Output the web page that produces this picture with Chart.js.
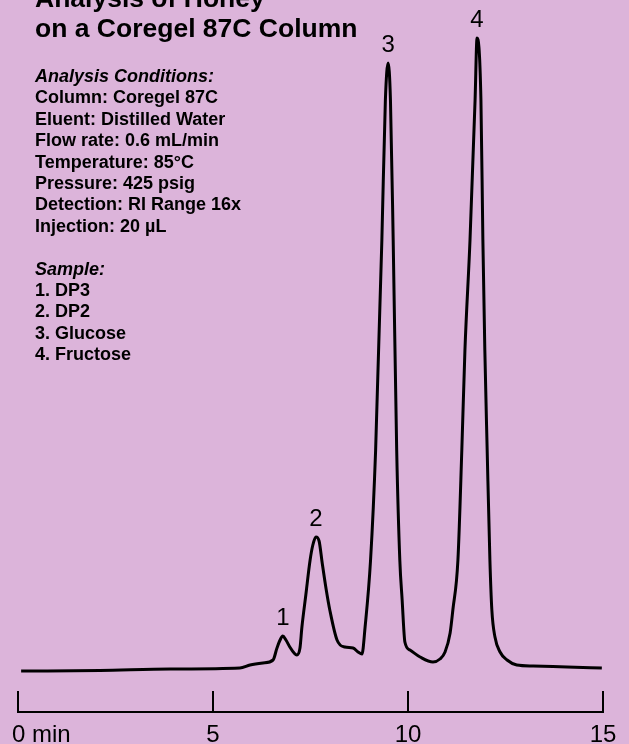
<!DOCTYPE html>
<html>
<head>
<meta charset="utf-8">
<script src="https://cdn.jsdelivr.net/npm/chart.js@4/dist/chart.umd.min.js"></script>
<style>
  html, body { margin: 0; padding: 0; background: #DCB4DA; }
  canvas { display: block; }
</style>
</head>
<body>
<canvas id="c" width="629" height="744"></canvas>
<script>
// Retention time (min)
const times = [0.08, 2.10, 3.90, 5.69, 5.95, 6.28, 6.54, 6.64, 6.72, 6.79, 6.87, 6.97, 7.08, 7.15, 7.23, 7.28, 7.38, 7.49, 7.56, 7.64, 7.72, 7.80, 7.90, 8.00, 8.18, 8.38, 8.59, 8.72, 8.82, 8.90, 9.04, 9.17, 9.33, 9.42, 9.49, 9.55, 9.62, 9.71, 9.79, 9.85, 9.92, 10.05, 10.31, 10.64, 10.82, 10.95, 11.08, 11.15, 11.28, 11.38, 11.46, 11.59, 11.72, 11.77, 11.87, 11.92, 11.97, 12.03, 12.10, 12.15, 12.23, 12.36, 12.54, 12.79, 13.21, 14.08, 14.97];
// Detector response (arbitrary units)
const signal = [0, 0.5, 2, 3, 6, 8, 11, 23, 31, 35, 31, 24, 18, 16, 23, 44, 76, 111, 126, 134, 130, 108, 82, 60, 31, 24, 23, 19, 17, 44, 111, 221, 431, 571, 608, 571, 431, 221, 111, 71, 29, 21, 14, 9, 12, 19, 38, 61, 111, 221, 321, 431, 571, 633, 571, 431, 321, 221, 111, 61, 34, 19, 11, 6, 5, 4, 3];
const peakTimes = [6.79, 7.64, 9.49, 11.77];
const peakLabels = ['1', '2', '3', '4'];
const xTicks = [0, 5, 10, 15];
const xTickLabels = ['0 min', '5', '10', '15'];
const titleLines = ['Analysis of Honey', 'on a Coregel 87C Column'];
const conditionsHeading = 'Analysis Conditions:';
const conditions = ['Column: Coregel 87C', 'Eluent: Distilled Water', 'Flow rate: 0.6 mL/min', 'Temperature: 85°C', 'Pressure: 425 psig', 'Detection: RI Range 16x', 'Injection: 20 µL'];
const sampleHeading = 'Sample:';
const samples = ['1. DP3', '2. DP2', '3. Glucose', '4. Fructose'];

const points = times.map((t, i) => ({ x: t, y: signal[i] }));

const textPlugin = {
  id: 'texts',
  afterDraw(chart) {
    const ctx = chart.ctx;
    ctx.save();
    ctx.fillStyle = '#000';
    ctx.textAlign = 'left';
    ctx.textBaseline = 'alphabetic';
    ctx.font = 'bold 26.5px "Liberation Sans", Arial, sans-serif';
    ctx.fillText(titleLines[0], 35, 7);
    ctx.fillText(titleLines[1], 35, 37);
    const lh = 21.4;
    ctx.font = 'italic bold 18px "Liberation Sans", Arial, sans-serif';
    ctx.fillText(conditionsHeading, 35, 82);
    ctx.font = 'bold 18px "Liberation Sans", Arial, sans-serif';
    conditions.forEach((s, i) => ctx.fillText(s, 35, 82 + lh * (i + 1)));
    const sy = 82 + lh * (conditions.length + 2);
    ctx.font = 'italic bold 18px "Liberation Sans", Arial, sans-serif';
    ctx.fillText(sampleHeading, 35, sy);
    ctx.font = 'bold 18px "Liberation Sans", Arial, sans-serif';
    samples.forEach((s, i) => ctx.fillText(s, 35, sy + lh * (i + 1)));
    // peak labels
    const xs = chart.scales.x, ys = chart.scales.y;
    ctx.font = '24px "Liberation Sans", Arial, sans-serif';
    ctx.textAlign = 'center';
    peakTimes.forEach((pt, k) => {
      let best = 0;
      times.forEach((t, i) => { if (Math.abs(t - pt) < Math.abs(times[best] - pt)) best = i; });
      const px = xs.getPixelForValue(times[best]);
      const py = ys.getPixelForValue(signal[best]);
      ctx.fillText(peakLabels[k], px, py - 11.5);
    });
    ctx.restore();
  }
};

new Chart(document.getElementById('c'), {
  type: 'line',
  data: {
    datasets: [{
      data: points,
      borderColor: '#000',
      borderWidth: 3,
      pointRadius: 0,
      fill: false,
      cubicInterpolationMode: 'monotone',
      clip: false
    }]
  },
  options: {
    responsive: false,
    animation: false,
    devicePixelRatio: 1,
    layout: { padding: { top: 20, left: 18, right: 26, bottom: 0 } },
    plugins: { legend: { display: false }, tooltip: { enabled: false }, title: { display: false } },
    scales: {
      x: {
        type: 'linear',
        min: 0, max: 15,
        afterBuildTicks: s => { s.ticks = xTicks.map(v => ({ value: v })); },
        afterFit: s => { s.height = 32; s.paddingLeft = 0; s.paddingRight = 0; },
        border: { display: true, color: '#000', width: 2 },
        grid: { display: true, drawOnChartArea: false, drawTicks: true, tickLength: -21, color: '#000', lineWidth: 2 },
        ticks: {
          autoSkip: false,
          maxRotation: 0,
          padding: 30,
          color: '#000',
          font: { family: '"Liberation Sans", Arial, sans-serif', size: 24 },
          callback: v => {
            const i = xTicks.indexOf(v);
            const lab = i >= 0 ? xTickLabels[i] : '';
            return v === 0 ? '\u00a0\u00a0\u00a0\u00a0\u00a0\u00a0\u00a0' + lab : lab;
          }
        }
      },
      y: {
        type: 'linear',
        display: false,
        min: -41, max: 651
      }
    }
  },
  plugins: [textPlugin]
});
</script>
</body>
</html>
